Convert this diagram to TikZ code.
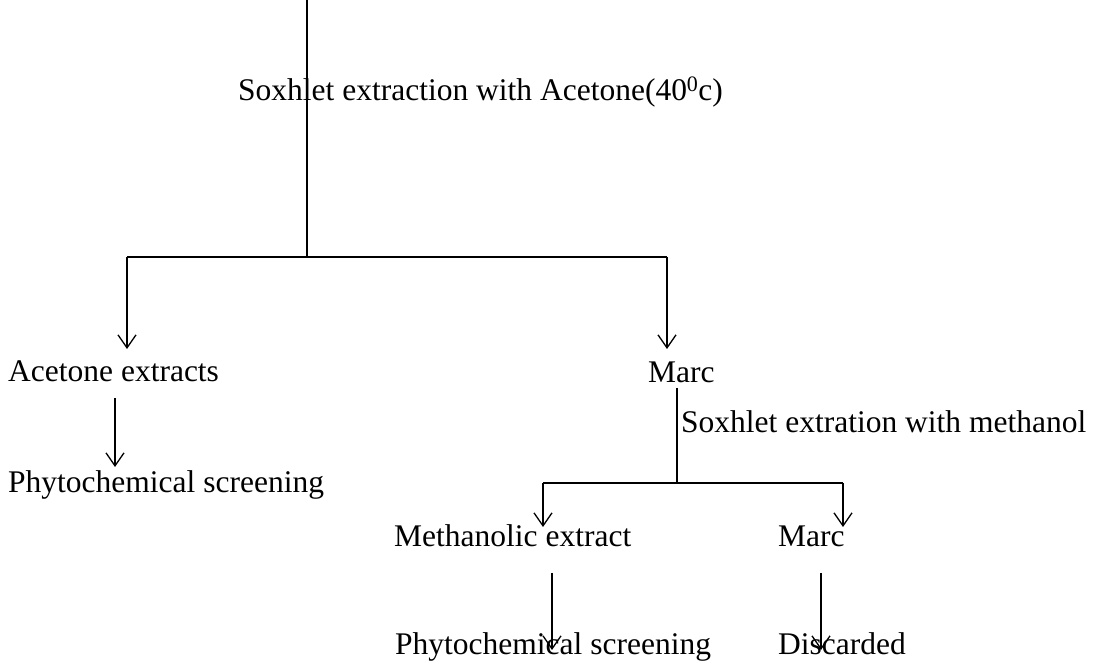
\documentclass[tikz,border=0pt]{standalone}
\usepackage{fontspec}
\setmainfont{Liberation Serif}
\usetikzlibrary{arrows.meta}
\tikzset{
  lbl/.style={anchor=base west, inner sep=0pt, font=\fontsize{31.5}{36}\selectfont},
  conn/.style={line width=1.3pt},
  arr/.style={conn, -{Straight Barb[length=13pt,width=18pt,line width=1.3pt]}},
}
\begin{document}
\begin{tikzpicture}[x=1pt,y=1pt]
\useasboundingbox (0,0) rectangle (1097,668);
% labels (y = 668 - pixel baseline)
\node[lbl] (sox1) at (238,668-101) {Soxhlet extraction with Acetone(40\textsuperscript{0}c)};
\node[lbl] (acet) at (8,668-382) {Acetone extracts};
\node[lbl] (marc1) at (648,668-383) {Marc};
\node[lbl] (phy1) at (8,668-493) {Phytochemical screening};
\node[lbl] (sox2) at (681,668-433) {Soxhlet extration with methanol};
\node[lbl] (meth) at (394,668-547) {Methanolic extract};
\node[lbl] (marc2) at (778,668-547) {Marc};
\node[lbl] (phy2) at (395,668-655) {Phytochemical screening};
\node[lbl] (disc) at (778,668-655) {Discarded};
% coordinates
\coordinate (top) at (307,668);
\coordinate (j1) at (307,668-257);
\coordinate (l1) at (127,668-257);
\coordinate (r1) at (667,668-257);
\coordinate (l1e) at (127,668-349);
\coordinate (r1e) at (667,668-349);
\coordinate (a1s) at (115,668-398);
\coordinate (a1e) at (115,668-467);
\coordinate (m1) at (677,668-388);
\coordinate (j2) at (677,668-483);
\coordinate (l2) at (543,668-483);
\coordinate (r2) at (843,668-483);
\coordinate (l2e) at (543,668-527);
\coordinate (r2e) at (843,668-527);
\coordinate (a2s) at (552,668-573);
\coordinate (a2e) at (552,668-650);
\coordinate (a3s) at (821,668-573);
\coordinate (a3e) at (821,668-650);
% connectors
\draw[conn] (top) -- (j1);
\draw[conn] (l1) -- (r1);
\draw[arr] (l1) -- (l1e);
\draw[arr] (r1) -- (r1e);
\draw[arr] (a1s) -- (a1e);
\draw[conn] (m1) -- (j2);
\draw[conn] (l2) -- (r2);
\draw[arr] (l2) -- (l2e);
\draw[arr] (r2) -- (r2e);
\draw[arr] (a2s) -- (a2e);
\draw[arr] (a3s) -- (a3e);
\end{tikzpicture}
\end{document}
